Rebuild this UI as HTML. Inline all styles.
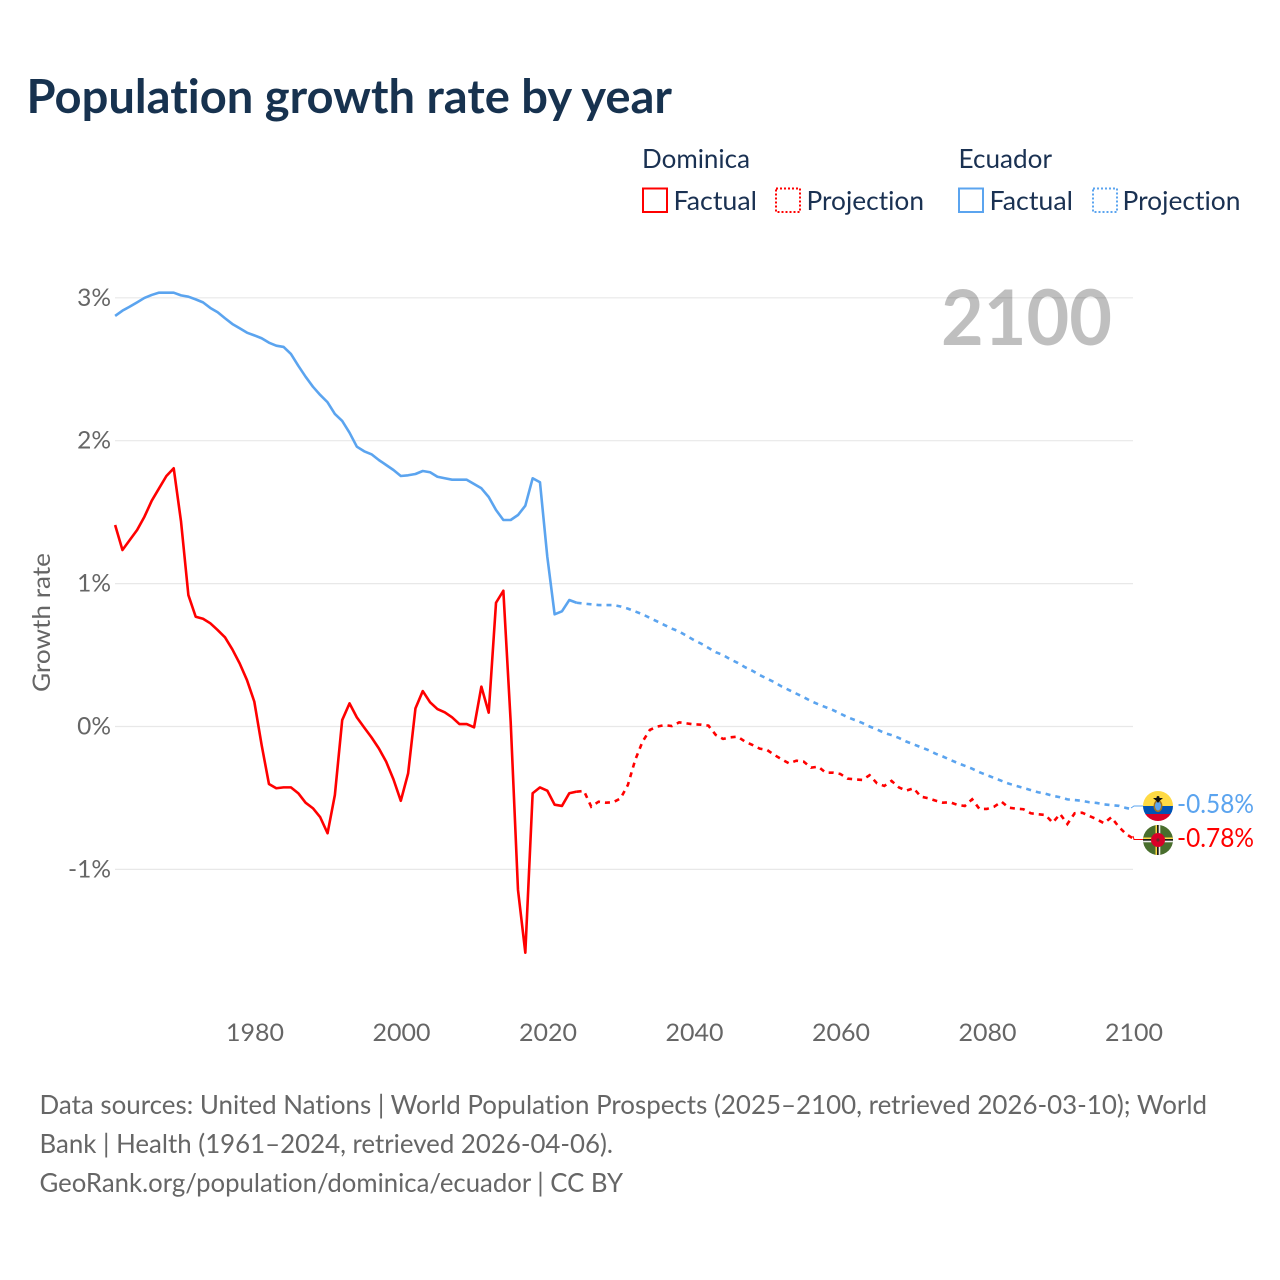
<!DOCTYPE html>
<html lang="en">
<head>
<meta charset="utf-8">
<title>Population growth rate by year</title>
<style>
html,body{margin:0;padding:0;background:#fff;width:1280px;height:1280px;overflow:hidden}
svg{display:block}
text{font-family:"Lato","Carlito","Liberation Sans",sans-serif;font-variant-ligatures:none;font-feature-settings:"liga" 0,"clig" 0}
</style>
</head>
<body>
<svg id="chart" xmlns="http://www.w3.org/2000/svg" width="1280" height="1280" viewBox="0 0 1280 1280">
  <rect x="0" y="0" width="1280" height="1280" fill="#fff"/>
  <text x="26.5" y="113" font-size="47" font-weight="700" fill="#17324f" textLength="645.5" lengthAdjust="spacingAndGlyphs">Population growth rate by year</text>

  <g font-size="26" fill="#1a3152">
    <text x="642" y="168" textLength="108" lengthAdjust="spacingAndGlyphs">Dominica</text>
    <text x="958.5" y="168" textLength="93.5" lengthAdjust="spacingAndGlyphs">Ecuador</text>
    <rect x="643" y="188.5" width="24" height="23.5" fill="none" stroke="#ff0000" stroke-width="2"/>
    <text x="673.5" y="210" textLength="83.5" lengthAdjust="spacingAndGlyphs">Factual</text>
    <rect x="776" y="188.5" width="24" height="23.5" fill="none" stroke="#ff0000" stroke-width="2" stroke-dasharray="2 2"/>
    <text x="806.5" y="210" textLength="117.5" lengthAdjust="spacingAndGlyphs">Projection</text>
    <rect x="959" y="188.5" width="24" height="23.5" fill="none" stroke="#5ba4ef" stroke-width="2"/>
    <text x="989.5" y="210" textLength="83.5" lengthAdjust="spacingAndGlyphs">Factual</text>
    <rect x="1093" y="188.5" width="24" height="23.5" fill="none" stroke="#5ba4ef" stroke-width="2" stroke-dasharray="2 2"/>
    <text x="1122.5" y="210" textLength="118" lengthAdjust="spacingAndGlyphs">Projection</text>
  </g>

  <g id="grid"></g>
  <g id="yticks"></g>
  <g id="xticks"></g>
  <text transform="translate(50,692) rotate(-90)" font-size="24" fill="#666" textLength="139" lengthAdjust="spacingAndGlyphs">Growth rate</text>
  <text id="yearLabel" x="941" y="345" font-size="77" font-weight="700" fill="#000" fill-opacity="0.25" textLength="171" lengthAdjust="spacingAndGlyphs">2100</text>

  <g id="series"></g>

  <path d="M1131 808 L1134 806 L1144 806" fill="none" stroke="#5ba4ef" stroke-width="1"/>
  <path d="M1133 836 L1134 839.5 L1144 839.5" fill="none" stroke="#ff0000" stroke-width="1"/>

  <defs>
    <clipPath id="clipEc"><circle cx="1158" cy="806" r="15"/></clipPath>
    <clipPath id="clipDm"><circle cx="1158" cy="840" r="15"/></clipPath>
  </defs>
  <g clip-path="url(#clipEc)">
    <rect x="1143" y="791" width="30" height="15" fill="#ffda44"/>
    <rect x="1143" y="806" width="30" height="8" fill="#0052b4"/>
    <rect x="1143" y="814" width="30" height="7" fill="#d80027"/>
    <ellipse cx="1158" cy="806" rx="4.5" ry="6" fill="#a2741c"/>
    <ellipse cx="1158" cy="806" rx="3" ry="4.5" fill="#5ba4ef"/>
    <path d="M1153 798 L1163 798 L1159.5 801 L1158 803 L1156.5 801 Z" fill="#111"/>
    <circle cx="1158" cy="797.5" r="1.5" fill="#111"/>
  </g>
  <g clip-path="url(#clipDm)">
    <rect x="1143" y="825" width="30" height="30" fill="#496e2d"/>
    <rect x="1155.5" y="825" width="1.6" height="30" fill="#ffda44"/>
    <rect x="1157.1" y="825" width="1.6" height="30" fill="#111"/>
    <rect x="1158.7" y="825" width="1.6" height="30" fill="#eee"/>
    <rect x="1143" y="837.5" width="30" height="1.6" fill="#ffda44"/>
    <rect x="1143" y="839.1" width="30" height="1.6" fill="#111"/>
    <rect x="1143" y="840.7" width="30" height="1.6" fill="#eee"/>
    <circle cx="1158" cy="840" r="7" fill="#d80027"/>
    <circle cx="1158" cy="840" r="1.6" fill="#6b2a2a"/>
  </g>

  <text id="labelEc" x="1177" y="813" font-size="26" fill="#5ba4ef" textLength="77" lengthAdjust="spacingAndGlyphs">-0.58%</text>
  <text id="labelDm" x="1177" y="847" font-size="26" fill="#ff0000" textLength="77" lengthAdjust="spacingAndGlyphs">-0.78%</text>

  <g font-size="26" fill="#666">
    <text x="39.5" y="1114" textLength="1167.5" lengthAdjust="spacingAndGlyphs">Data sources: United Nations | World Population Prospects (2025–2100, retrieved 2026-03-10); World</text>
    <text x="39.5" y="1153" textLength="573.5" lengthAdjust="spacingAndGlyphs">Bank | Health (1961–2024, retrieved 2026-04-06).</text>
    <text x="39.5" y="1192" textLength="583.5" lengthAdjust="spacingAndGlyphs">GeoRank.org/population/dominica/ecuador | CC BY</text>
  </g>
</svg>
<script>
const yTickValues = [3, 2, 1, 0, -1];
const yTickLabels = ['3%', '2%', '1%', '0%', '-1%'];
const xTickYears = [1980, 2000, 2020, 2040, 2060, 2080, 2100];
const factualStartYear = 1961;
const projectionStartYear = 2024;

const ecuadorFactual = [2.873,2.910,2.938,2.968,2.999,3.020,3.036,3.036,3.036,3.017,3.008,2.989,2.968,2.929,2.899,2.857,2.817,2.787,2.756,2.737,2.717,2.686,2.665,2.656,2.607,2.525,2.448,2.378,2.320,2.269,2.187,2.138,2.056,1.958,1.926,1.905,1.865,1.830,1.795,1.753,1.758,1.767,1.788,1.779,1.748,1.737,1.727,1.727,1.727,1.697,1.667,1.606,1.515,1.445,1.445,1.480,1.545,1.737,1.709,1.188,0.785,0.806,0.885,0.866];

const ecuadorProjection = [0.866,0.860,0.855,0.850,0.850,0.850,0.840,0.825,0.805,0.785,0.760,0.735,0.710,0.685,0.665,0.635,0.605,0.580,0.550,0.520,0.500,0.470,0.445,0.415,0.390,0.360,0.335,0.310,0.280,0.255,0.230,0.205,0.178,0.155,0.135,0.115,0.090,0.065,0.045,0.025,0.000,-0.020,-0.045,-0.060,-0.080,-0.105,-0.125,-0.145,-0.165,-0.190,-0.210,-0.233,-0.255,-0.275,-0.295,-0.320,-0.340,-0.360,-0.380,-0.400,-0.415,-0.430,-0.445,-0.460,-0.470,-0.485,-0.495,-0.510,-0.515,-0.520,-0.530,-0.535,-0.545,-0.550,-0.555,-0.570,-0.580];

const dominicaFactual = [1.410,1.235,1.305,1.375,1.468,1.580,1.667,1.753,1.807,1.433,0.920,0.768,0.754,0.722,0.675,0.624,0.540,0.442,0.325,0.174,-0.129,-0.402,-0.432,-0.426,-0.426,-0.467,-0.533,-0.572,-0.635,-0.747,-0.479,0.045,0.162,0.064,-0.007,-0.076,-0.153,-0.246,-0.370,-0.520,-0.328,0.127,0.248,0.169,0.122,0.099,0.064,0.017,0.017,-0.006,0.279,0.097,0.866,0.950,0.034,-1.144,-1.583,-0.467,-0.426,-0.449,-0.547,-0.556,-0.467,-0.456];

const dominicaProjection = [-0.456,-0.451,-0.561,-0.526,-0.533,-0.530,-0.503,-0.409,-0.234,-0.106,-0.024,-0.001,0.010,0.003,0.029,0.022,0.015,0.013,0.006,-0.059,-0.087,-0.076,-0.071,-0.106,-0.129,-0.155,-0.164,-0.199,-0.230,-0.258,-0.239,-0.246,-0.288,-0.281,-0.323,-0.323,-0.332,-0.365,-0.370,-0.374,-0.341,-0.397,-0.416,-0.381,-0.426,-0.449,-0.432,-0.491,-0.502,-0.519,-0.533,-0.530,-0.549,-0.556,-0.509,-0.577,-0.577,-0.561,-0.526,-0.568,-0.575,-0.579,-0.607,-0.614,-0.619,-0.673,-0.612,-0.682,-0.607,-0.603,-0.626,-0.649,-0.677,-0.635,-0.701,-0.752,-0.785];

const NS = 'http://www.w3.org/2000/svg';
function xScale(year) { return 1133.3 - (2100 - year) * 7.325; }
function yScale(value) { return 726.5 - value * 142.9; }

function svgEl(tag, attrs, parent) {
  const el = document.createElementNS(NS, tag);
  Object.keys(attrs).forEach(function (k) { el.setAttribute(k, attrs[k]); });
  parent.appendChild(el);
  return el;
}

const gridGroup = document.getElementById('grid');
const yTickGroup = document.getElementById('yticks');
yTickValues.forEach(function (v, i) {
  const line = svgEl('line', { x1: 115, x2: 1133, y1: yScale(v), y2: yScale(v), stroke: '#e8e8e8', 'stroke-width': 1.2 }, gridGroup);
  
  
  const label = svgEl('text', { x: 111, y: yScale(v) + 8, 'text-anchor': 'end', 'font-size': 24.5, fill: '#666' }, yTickGroup);
  
  
  label.textContent = yTickLabels[i];
});

const xTickGroup = document.getElementById('xticks');
xTickYears.forEach(function (yr) {
  const label = svgEl('text', { x: xScale(yr) + 0.7, y: 1041, 'text-anchor': 'middle', 'font-size': 24, fill: '#666', textLength: 58, lengthAdjust: 'spacingAndGlyphs' }, xTickGroup);
  
  
  label.textContent = String(yr);
});

function linePath(values, startYear) {
  return values.map(function (v, i) {
    return (i === 0 ? 'M' : 'L') + xScale(startYear + i).toFixed(2) + ' ' + yScale(v).toFixed(2);
  }).join(' ');
}

const seriesGroup = document.getElementById('series');

const ecuadorFactualLine = svgEl('path', { d: linePath(ecuadorFactual, factualStartYear), fill: 'none', stroke: '#5ba4ef', 'stroke-width': 2.6, 'stroke-linejoin': 'round' }, seriesGroup);



const ecuadorProjectionLine = svgEl('path', { d: linePath(ecuadorProjection, projectionStartYear), fill: 'none', stroke: '#5ba4ef', 'stroke-width': 2.6, 'stroke-dasharray': '5 5' }, seriesGroup);



const dominicaFactualLine = svgEl('path', { d: linePath(dominicaFactual, factualStartYear), fill: 'none', stroke: '#ff0000', 'stroke-width': 2.6, 'stroke-linejoin': 'round' }, seriesGroup);



const dominicaProjectionLine = svgEl('path', { d: linePath(dominicaProjection, projectionStartYear), fill: 'none', stroke: '#ff0000', 'stroke-width': 2.6, 'stroke-dasharray': '5 5' }, seriesGroup);


</script>
</body>
</html>
